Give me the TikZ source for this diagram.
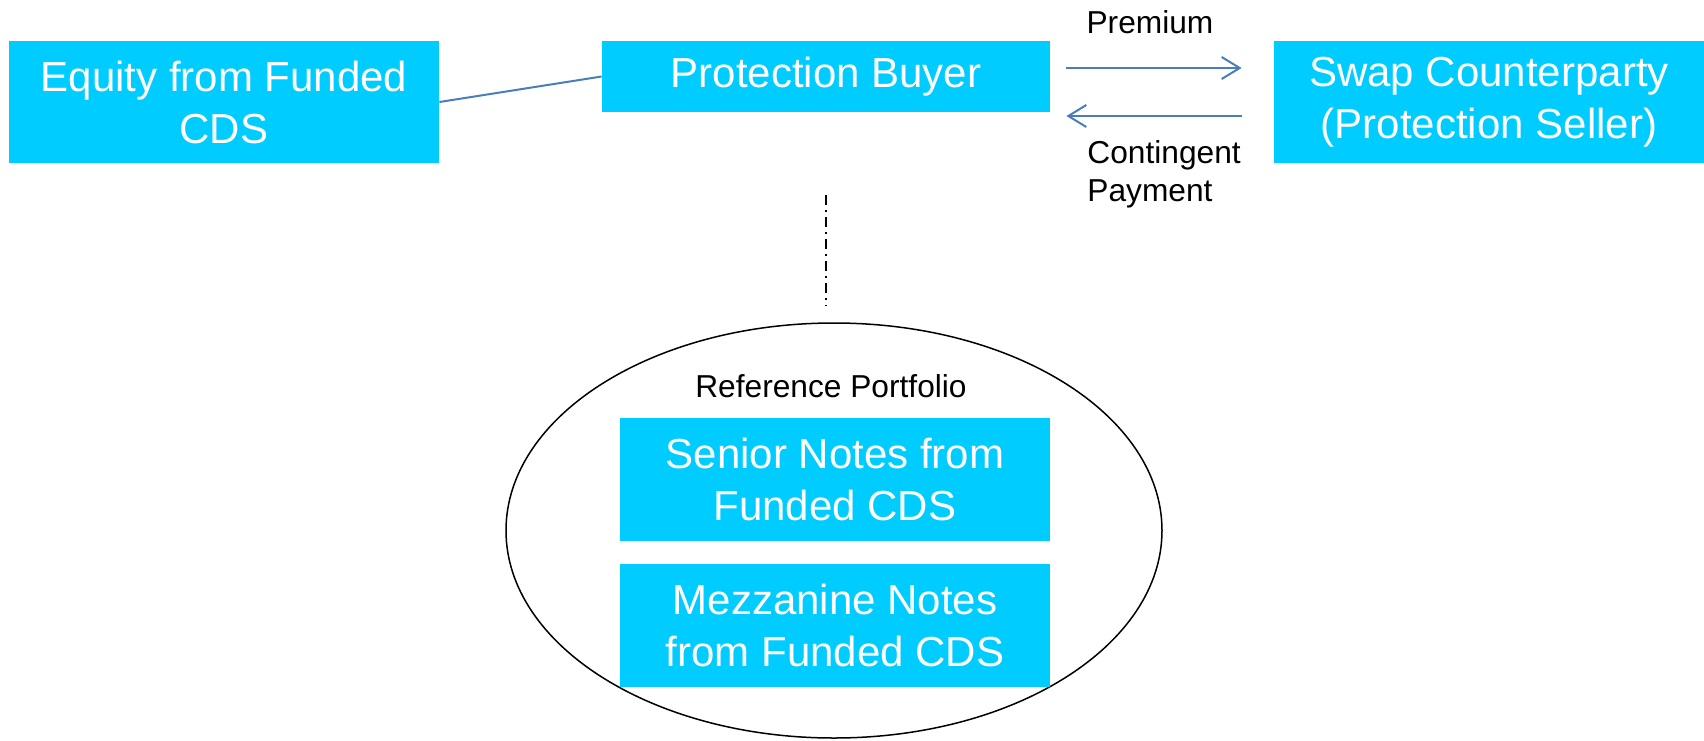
\documentclass[tikz,border=0pt]{standalone}
\usepackage{fontspec}
\setmainfont{Liberation Sans}
\usetikzlibrary{arrows.meta,shapes.geometric}
\definecolor{boxcyan}{RGB}{0,204,255}
\definecolor{linkblue}{RGB}{74,126,187}
\tikzset{
    tranche/.style={fill=boxcyan, text=white, align=center, inner sep=0pt,
        font=\fontsize{21}{26}\selectfont},
    flow/.style={draw=linkblue, line width=1pt},
    note/.style={inner sep=0pt, font=\fontsize{15.85}{19}\selectfont}
}
\begin{document}
\begin{tikzpicture}[x=0.5pt, y=-0.5pt, >={Straight Barb[length=9pt,width=11pt]}]
    \useasboundingbox (0,0) rectangle (1704,740);

    % Parties
    \node[tranche, minimum width=215pt, minimum height=61pt] (equity) at (224,102) {Equity from Funded\\CDS};
    \node[tranche, minimum width=224pt, minimum height=35.5pt] (buyer) at (826,76.5) {Protection Buyer};
    \node[tranche, minimum width=215pt, minimum height=61pt] (swap) at (1489,102) {Swap Counterparty\\(Protection Seller)};
    \draw[flow] (equity.east) -- (buyer.west);

    % Payments
    \coordinate (prem) at (buyer.east |- 0,68);
    \coordinate (cont) at (buyer.east |- 0,116);
    \draw[flow, ->, shorten <=8pt, shorten >=16pt] (prem) -- (prem -| swap.west);
    \draw[flow, <-, shorten <=8pt, shorten >=16pt] (cont) -- (cont -| swap.west);
    \node[note] (premium) at (1150,22) {Premium};
    \node[note, anchor=west, align=left] (contingent) at (1087,174) {Contingent\\Payment};

    % Reference portfolio
    \node[ellipse, draw, line width=0.75pt, inner sep=0pt, minimum width=328pt, minimum height=207.5pt] (pool) at (834,530.5) {};
    \node[note] (reflabel) at (831,386) {Reference Portfolio};
    \node[tranche, minimum width=215pt, minimum height=61.5pt] (senior) at (835,479.5) {Senior Notes from\\Funded CDS};
    \node[tranche, minimum width=215pt, minimum height=61.5pt] (mezz) at (835,625.5) {Mezzanine Notes\\from Funded CDS};
    \draw[line width=0.75pt, dash pattern=on 5pt off 2.5pt on 1pt off 2.5pt, shorten <=41.5pt, shorten >=8pt]
        (buyer.south) -- (buyer.south |- pool.north);
\end{tikzpicture}
\end{document}
